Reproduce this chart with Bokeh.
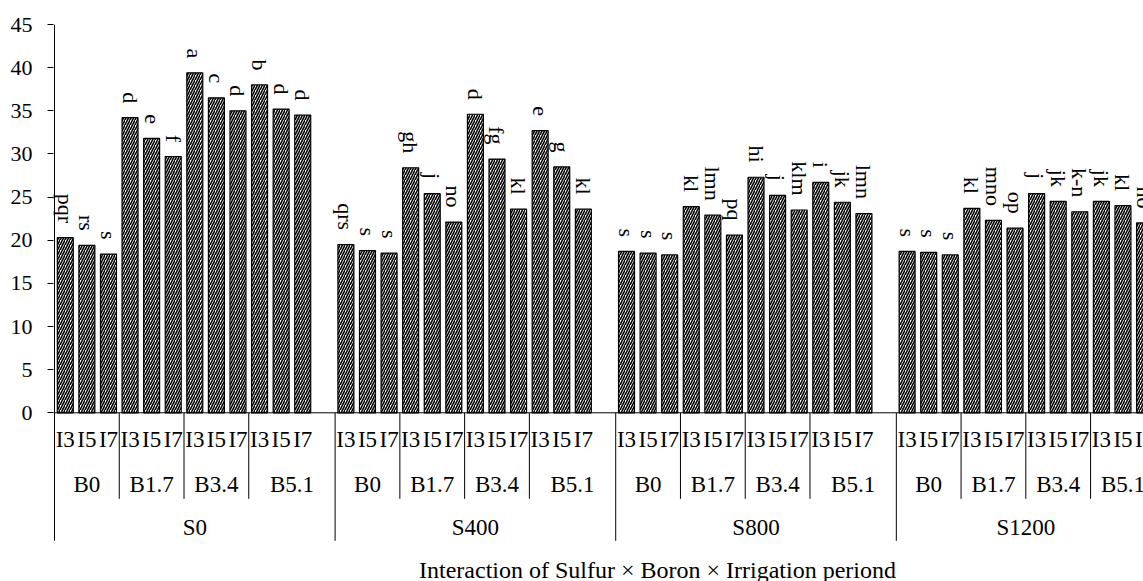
import math
from bokeh.plotting import figure
from bokeh.models import Range1d, FixedTicker, Span, ColumnDataSource
from bokeh.core.properties import value
from bokeh.embed import file_html
from bokeh.resources import INLINE

# ---------------- data ----------------
sulfur = ["S0", "S400", "S800", "S1200"]
boron = ["B0", "B1.7", "B3.4", "B5.1"]
irrigation = ["I3", "I5", "I7"]

vals_S0 = [20.3, 19.4, 18.4, 34.2, 31.8, 29.7, 39.4, 36.5, 35.0, 38.0, 35.2, 34.5]
vals_S400 = [19.5, 18.8, 18.5, 28.4, 25.4, 22.1, 34.6, 29.4, 23.6, 32.7, 28.5, 23.6]
vals_S800 = [18.7, 18.5, 18.3, 23.9, 22.9, 20.6, 27.3, 25.2, 23.5, 26.7, 24.4, 23.1]
vals_S1200 = [18.7, 18.6, 18.3, 23.7, 22.3, 21.4, 25.4, 24.5, 23.3, 24.5, 24.0, 22.0]

letters_S0 = ["pqr", "rs", "s", "d", "e", "f", "a", "c", "d", "b", "d", "d"]
letters_S400 = ["qrs", "s", "s", "gh", "j", "no", "d", "fg", "kl", "e", "g", "kl"]
letters_S800 = ["s", "s", "s", "kl", "lmn", "pq", "hi", "j", "klm", "i", "jk", "lmn"]
letters_S1200 = ["s", "s", "s", "kl", "mno", "op", "j", "jk", "k-n", "jk", "kl", "no"]

y_ticks = [0, 5, 10, 15, 20, 25, 30, 35, 40, 45]
x_title = "Interaction of Sulfur \u00d7 Boron \u00d7 Irrigation periond"

values = [vals_S0, vals_S400, vals_S800, vals_S1200]
letters = [letters_S0, letters_S400, letters_S800, letters_S1200]

# ---------------- layout constants ----------------
PX_X = 21.585          # px per category slot
PX_Y = 8.629           # px per y unit
FIG_W, FIG_H = 1143, 581
BORDER_L, BORDER_T = 53, 24
FONT = "Liberation Serif"

x0 = -1.0 / PX_X
x1 = x0 + (FIG_W - BORDER_L) / PX_X
y1 = 45.0
y0 = y1 - (FIG_H - BORDER_T) / PX_Y

def ypx(px):  # px below the zero line -> data units
    return -px / PX_Y

# ---------------- positions from categories ----------------
bar_x, bar_top, lab_txt, lab_y = [], [], [], []
irr_x, irr_txt = [], []
b_x, b_txt = [], []
s_x, s_txt = [], []
b_sep, s_sep = [], []
pos = 0
for si, s in enumerate(sulfur):
    s_start = pos
    s_sep.append(s_start)
    last_group = si == len(sulfur) - 1
    for bi, b in enumerate(boron):
        b_start = pos
        if bi > 0:
            b_sep.append(b_start)
        for ii, irr in enumerate(irrigation):
            k = bi * len(irrigation) + ii
            bar_x.append(pos + 0.5)
            bar_top.append(values[si][k])
            lab_txt.append(letters[si][k])
            lab_y.append(values[si][k] + 14.5 / PX_Y)
            irr_x.append(pos + 0.5)
            irr_txt.append(irr)
            pos += 1
        b_end = pos + (0 if (last_group or bi < len(boron) - 1) else 1)
        b_x.append((b_start + b_end) / 2)
        b_txt.append(b)
    if not last_group:
        pos += 1  # blank category between sulfur groups
    s_x.append((s_start + pos) / 2)
    s_txt.append(s)

p = figure(width=FIG_W, height=FIG_H, output_backend="svg", toolbar_location=None,
           x_range=Range1d(x0, x1), y_range=Range1d(y0, y1),
           min_border_left=BORDER_L, min_border_top=BORDER_T,
           min_border_right=0, min_border_bottom=0)
p.outline_line_color = None
p.grid.visible = False
p.xaxis.visible = False
p.background_fill_color = "white"
p.border_fill_color = "white"

ya = p.yaxis[0]
ya.ticker = FixedTicker(ticks=y_ticks)
ya.axis_line_color = None
ya.major_tick_out = 6
ya.major_tick_in = 0
ya.minor_tick_line_color = None
ya.major_tick_line_color = "black"
ya.major_label_standoff = 15
ya.major_label_text_font = FONT
ya.major_label_text_font_size = "22px"
ya.major_label_text_color = "black"

# bars
src = ColumnDataSource(dict(x=bar_x, top=bar_top, lab=lab_txt, ly=lab_y))
p.vbar(x="x", top="top", bottom=0, width=0.74, source=src,
       fill_color="white", line_color="black", line_width=1.2,
       hatch_pattern="/", hatch_color="black", hatch_scale=5, hatch_weight=1.6)

# significance letters (rotated)
p.text(x="x", y="ly", text="lab", source=src, angle=-math.pi / 2,
       text_align="right", text_baseline="middle",
       text_font=value(FONT), text_font_size=value("22px"), text_color="black")

# axis lines
p.segment(x0=[0], y0=[0], x1=[0], y1=[y1], line_color="black", line_width=1)
p.add_layout(Span(location=0, dimension="width", line_color="black", line_width=1))

# category separators
p.segment(x0=b_sep, y0=[0] * len(b_sep), x1=b_sep, y1=[ypx(86)] * len(b_sep),
          line_color="black", line_width=1)
p.segment(x0=s_sep, y0=[0] * len(s_sep), x1=s_sep, y1=[ypx(128)] * len(s_sep),
          line_color="black", line_width=1)

# category labels
p.text(x=irr_x, y=[ypx(27)] * len(irr_x), text=irr_txt, text_align="center",
       text_baseline="middle", text_font=value(FONT), text_font_size=value("23px"),
       text_color="black")
p.text(x=b_x, y=[ypx(72)] * len(b_x), text=b_txt, text_align="center",
       text_baseline="middle", text_font=value(FONT), text_font_size=value("23px"),
       text_color="black")
p.text(x=s_x, y=[ypx(115)] * len(s_x), text=s_txt, text_align="center",
       text_baseline="middle", text_font=value(FONT), text_font_size=value("23px"),
       text_color="black")

# axis title
p.text(x=[(657 - 54) / PX_X], y=[ypx(157)], text=[x_title], text_align="center",
       text_baseline="middle", text_font=value(FONT), text_font_size=value("24px"),
       text_color="black")

open("out.html", "w").write(file_html(p, INLINE))
